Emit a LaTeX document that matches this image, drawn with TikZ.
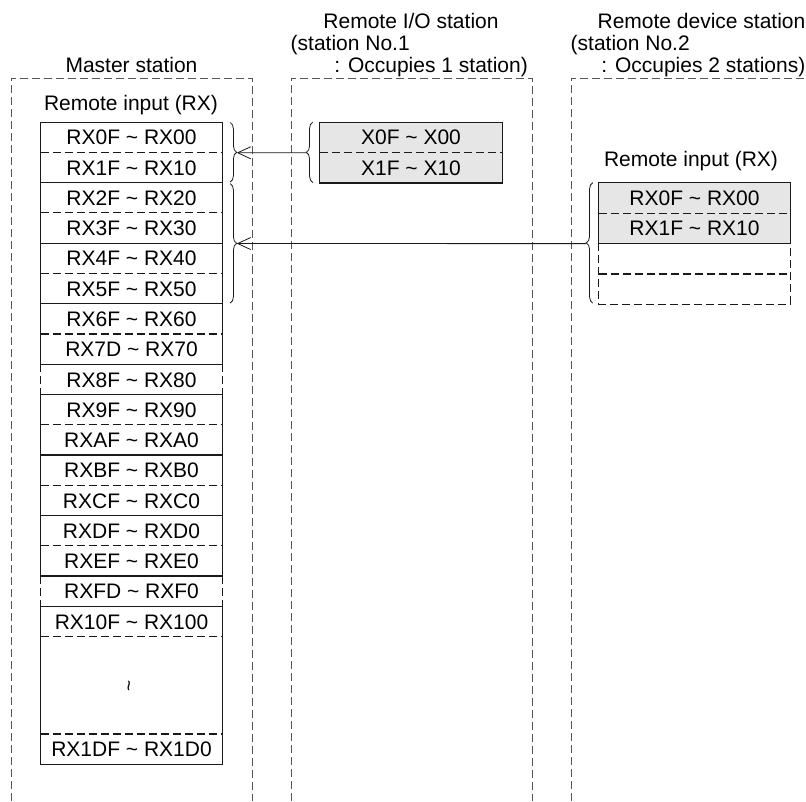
\documentclass[tikz,border=0pt]{standalone}
\usepackage{fontspec}
\setmainfont{Liberation Sans}
\usetikzlibrary{decorations.pathreplacing,arrows.meta}
\definecolor{cellgray}{HTML}{E6E6E6}
\definecolor{framegray}{HTML}{555555}
\definecolor{linecol}{HTML}{1A1A1A}
\newcommand{\tld}{\textasciitilde}
\begin{document}
\begin{tikzpicture}[x=1pt,y=-1pt,
  txt/.style={font=\fontsize{21}{22}\selectfont, inner sep=0pt, anchor=base},
  cell/.style={font=\fontsize{21}{22}\selectfont, inner sep=0pt, minimum width=181pt, minimum height=30.26pt, text height=15pt, text depth=0pt},
  iocell/.style={cell, minimum width=182pt, fill=cellgray},
  dvcell/.style={cell, minimum width=191pt},
  solidl/.style={draw=linecol, line width=1.2pt},
  dashl/.style={draw=linecol, line width=1.2pt, dash pattern=on 8pt off 4pt},
  framel/.style={draw=framegray, line width=1pt, dash pattern=on 8pt off 4pt},
  bracel/.style={draw=linecol, line width=0.8pt, decorate, decoration={brace, amplitude=6.5pt}},
  arr/.style={draw=linecol, line width=0.8pt, -{Straight Barb[length=13pt,width=12pt,line width=0.8pt]}}
]
\useasboundingbox (0,0) rectangle (806,801);

% station frames
\draw[framel] (11,801) -- (11,78) -- (252,78) -- (252,801);
\draw[framel] (291,801) -- (291,78) -- (532,78) -- (532,801);
\draw[framel] (571,801) -- (571,78) -- (806,78);

% titles
\node[txt] (tmaster) at (131.5,72.5) {Master station};
\node[txt] (tmri) at (131,110) {Remote input (RX)};
\node[txt] (tio1) at (411,28.5) {Remote I/O station};
\node[txt, anchor=base west] (tio2) at (290.5,50.5) {(station No.1};
\node[txt, anchor=base east] (tio3) at (528,72.5) {: Occupies 1 station)};
\node[txt] (tdv1) at (701.5,28.5) {Remote device station};
\node[txt, anchor=base west] (tdv2) at (570.5,50.5) {(station No.2};
\node[txt, anchor=base east] (tdv3) at (805.5,72.5) {: Occupies 2 stations)};
\node[txt] (tdri) at (691,166.5) {Remote input (RX)};

% master rows
\foreach \lab [count=\i from 0] in {RX0F \tld{} RX00, RX1F \tld{} RX10, RX2F \tld{} RX20, RX3F \tld{} RX30, RX4F \tld{} RX40, RX5F \tld{} RX50, RX6F \tld{} RX60, RX7D \tld{} RX70, RX8F \tld{} RX80, RX9F \tld{} RX90, RXAF \tld{} RXA0, RXBF \tld{} RXB0, RXCF \tld{} RXC0, RXDF \tld{} RXD0, RXEF \tld{} RXE0, RXFD \tld{} RXF0, RX10F \tld{} RX100}
  \node[cell] (m\i) at (131.5,{122.3+30.26*\i+15.13}) {\lab};
\node[cell, minimum height=97.6pt] (mg) at (131.5,685.5) {};
\node[rotate=90, inner sep=0pt, font=\fontsize{19}{19}\selectfont] (tw) at (mg.center) {\tld};
\node[cell] (ml) at (131.5,749.3) {RX1DF \tld{} RX1D0};

% master borders
\foreach \i in {0,2,4,6,8,9,11,13,15,16}
  \draw[solidl] (m\i.north west) -- (m\i.north east);
\foreach \i in {1,3,5,7,10,12,14}
  \draw[dashl] (m\i.north west) -- (m\i.north east);
\draw[dashl] (mg.north west) -- (mg.north east);
\draw[dashl] (ml.north west) -- (ml.north east);
\draw[solidl] (ml.south west) -- (ml.south east);
\draw[solidl] (m0.north west) -- (m7.south west);
\draw[solidl] (m0.north east) -- (m7.south east);
\draw[solidl] (m9.north west) -- (m14.south west);
\draw[solidl] (m9.north east) -- (m14.south east);
\draw[solidl] (m16.north west) -- (ml.south west);
\draw[solidl] (m16.north east) -- (ml.south east);
\foreach \i in {8,15} {
  \draw[dashl] (m\i.north west) -- (m\i.south west);
  \draw[dashl] (m\i.north east) -- (m\i.south east);
}

% remote I/O rows
\node[iocell] (io0) at (411,137.43) {X0F \tld{} X00};
\node[iocell] (io1) at (411,167.69) {X1F \tld{} X10};
\draw[solidl] (io0.north west) rectangle (io1.south east);
\draw[dashl] (io0.south west) -- (io0.south east);

% remote device rows
\node[dvcell, fill=cellgray] (d0) at (694.5,198.0) {RX0F \tld{} RX00};
\node[dvcell, fill=cellgray] (d1) at (694.5,228.3) {RX1F \tld{} RX10};
\node[dvcell] (d2) at (694.5,258.6) {};
\node[dvcell] (d3) at (694.5,288.8) {};
\draw[solidl] (d1.south west) -- (d0.north west) -- (d0.north east) -- (d1.south east) -- cycle;
\draw[dashl] (d0.south west) -- (d0.south east);
\draw[dashl] (d2.north west) -- (d3.south west) -- (d3.south east) -- (d2.north east);
\draw[dashl] (d2.south west) -- (d2.south east);

% braces
\draw[bracel] ([xshift=8pt,yshift=-0.5pt]m0.north east) -- ([xshift=8pt,yshift=1pt]m1.south east);
\draw[bracel] ([xshift=8pt,yshift=-1pt]m2.north east) -- ([xshift=8pt,yshift=1pt]m5.south east);
\draw[bracel] ([xshift=-7pt,yshift=0.5pt]io1.south west) -- ([xshift=-7pt]io0.north west);
\draw[bracel] ([xshift=-6pt,yshift=1pt]d3.south west) -- ([xshift=-6pt]d0.north west);
\coordinate (b1tip) at ([xshift=14.5pt]m0.south east);
\coordinate (b2tip) at ([xshift=14.5pt]m3.south east);
\coordinate (iotip) at ([xshift=-13.5pt]io0.south west);
\coordinate (dvtip) at ([xshift=-12.5pt]d1.south west);

% connectors
\draw[arr] (iotip) -- (b1tip);
\draw[arr] (dvtip) -- (b2tip);
\end{tikzpicture}
\end{document}
